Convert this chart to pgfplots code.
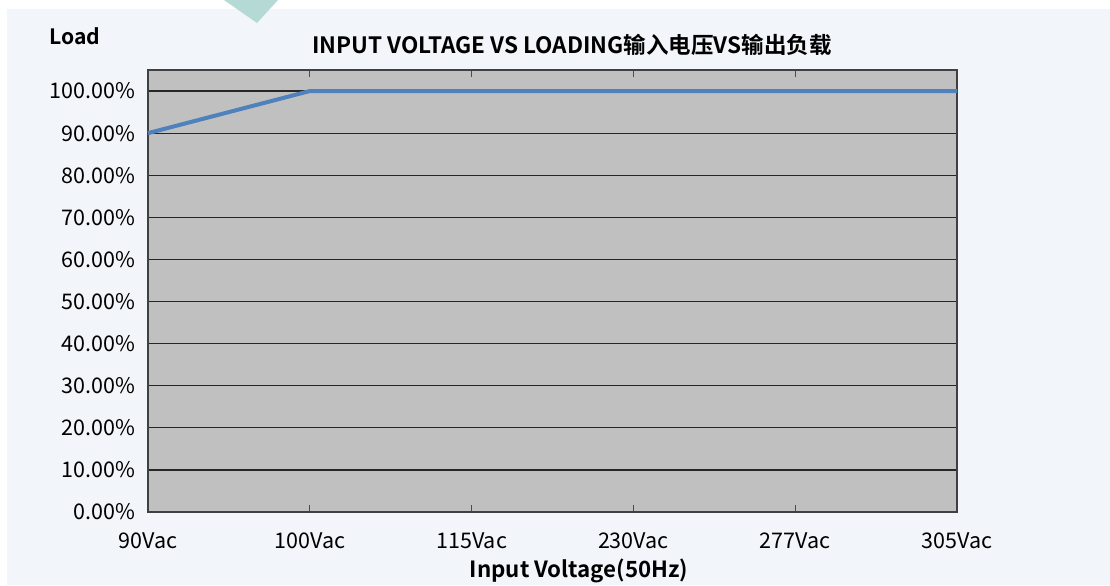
\documentclass[border=0pt]{standalone}
\usepackage{pgfplots}
\pgfplotsset{compat=1.18}
\usepackage{fontspec}
\setmainfont{Noto Sans CJK SC}[BoldFont={Noto Sans CJK SC Bold}]
\definecolor{bgc}{HTML}{F2F5FA}
\definecolor{tri}{HTML}{B5DAD6}
\definecolor{plotbg}{HTML}{C0C0C0}
\definecolor{linec}{HTML}{4F81BD}
\begin{document}
\begin{tikzpicture}[x=1bp,y=1bp]
\useasboundingbox (0,0) rectangle (555,292.5);
\fill[white] (0,0) rectangle (555,292.5);
\fill[bgc] (3.5,0) rectangle (555,288);
\fill[tri] (112,292.5) -- (139,292.5) -- (128.5,281) -- cycle;
\begin{axis}[
  at={(74bp,36.5bp)}, anchor=south west,
  scale only axis, width=404.5bp, height=221bp,
  xmin=0, xmax=5, ymin=0, ymax=105,
  axis background/.style={fill=plotbg},
  axis line style={draw=black!75, line width=0.6bp},
  xtick={0,1,2,3,4,5},
  xticklabels={90Vac,100Vac,115Vac,230Vac,277Vac,305Vac},
  ytick={0,10,...,100},
  yticklabel={\pgfmathprintnumber[fixed,fixed zerofill,precision=2]{\tick}\%},
  /pgf/number format/assume math mode=true,
  tick label style={font=\fontsize{10.8}{12}\selectfont, text=black},
  xtick align=inside, ytick style={draw=none},
  major tick length=3.5bp,
  x tick style={draw=black!70, line width=0.45bp},
  xticklabel style={yshift=-7bp},
  yticklabel style={xshift=-3bp},
  ymajorgrids, y grid style={draw=black!85, line width=0.6bp},
  clip=false,
]
\addplot[linec, line width=2bp] coordinates {(0,90) (1,100) (2,100) (3,100) (4,100) (5,100)};
\end{axis}
\node[font=\bfseries\fontsize{10.6}{12}\selectfont] at (37.5,274.5) {Load};
\node[font=\bfseries\fontsize{11.3}{13}\selectfont] at (286,270) {INPUT VOLTAGE VS LOADING输入电压VS输出负载};
\node[font=\bfseries\fontsize{11.2}{13}\selectfont] at (289.5,7) {Input Voltage(50Hz)};
\end{tikzpicture}
\end{document}
